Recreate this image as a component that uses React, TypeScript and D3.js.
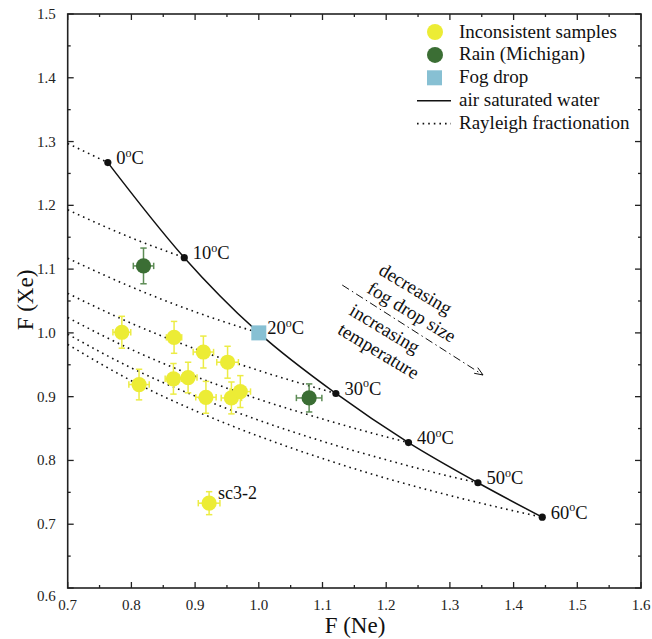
import React from "react";
import * as d3 from "d3";

// Air saturated water (ASW) equilibrium points by temperature
const aswTemps = [0, 10, 20, 30, 40, 50, 60];
const aswNe = [0.763, 0.883, 1.0, 1.121, 1.235, 1.344, 1.445];
const aswXe = [1.267, 1.118, 1.0, 0.905, 0.828, 0.765, 0.711];

// Rayleigh fractionation paths, one per ASW temperature
const rayleighNe = [
  [0.7, 0.763],
  [0.7, 0.8, 0.883],
  [0.7, 0.8, 0.9, 1.0],
  [0.7, 0.8, 0.9, 1.0, 1.121],
  [0.7, 0.8, 0.9, 1.0, 1.1, 1.2, 1.235],
  [0.7, 0.8, 0.9, 1.0, 1.1, 1.2, 1.3, 1.344],
  [0.7, 0.8, 0.9, 1.0, 1.1, 1.2, 1.3, 1.4, 1.445],
];
const rayleighXe = [
  [1.297, 1.267],
  [1.193, 1.149, 1.118],
  [1.117, 1.072, 1.033, 1.0],
  [1.062, 1.015, 0.975, 0.941, 0.905],
  [1.024, 0.974, 0.932, 0.896, 0.865, 0.837, 0.828],
  [0.998, 0.945, 0.901, 0.863, 0.83, 0.801, 0.775, 0.765],
  [0.982, 0.925, 0.878, 0.838, 0.803, 0.772, 0.745, 0.721, 0.711],
];

// Inconsistent samples
const sampleNe = [0.785, 0.867, 0.913, 0.951, 0.812, 0.866, 0.889, 0.917, 0.957, 0.971, 0.922];
const sampleXe = [1.001, 0.993, 0.97, 0.954, 0.919, 0.928, 0.93, 0.899, 0.898, 0.908, 0.733];
const sampleNeErr = [0.014, 0.012, 0.016, 0.017, 0.016, 0.013, 0.014, 0.016, 0.016, 0.016, 0.017];
const sampleXeErr = [0.025, 0.025, 0.025, 0.025, 0.024, 0.024, 0.024, 0.025, 0.025, 0.025, 0.018];
const sampleLabels = ["", "", "", "", "", "", "", "", "", "", "sc3-2"];

// Rain (Michigan)
const rainNe = [0.819, 1.079];
const rainXe = [1.105, 0.898];
const rainNeErr = [0.016, 0.02];
const rainXeErr = [0.028, 0.022];

// Fog drop
const fogNe = [1.0];
const fogXe = [1.0];

// Axis ticks
const majorTicksX = [0.7, 0.8, 0.9, 1.0, 1.1, 1.2, 1.3, 1.4, 1.5, 1.6];
const majorTicksY = [0.6, 0.7, 0.8, 0.9, 1.0, 1.1, 1.2, 1.3, 1.4, 1.5];

// Direction arrow for the annotation (F(Ne), F(Xe))
const arrowNe = [1.131, 1.352];
const arrowXe = [1.075, 0.934];

const legendItems = [
  "Inconsistent samples",
  "Rain (Michigan)",
  "Fog drop",
  "air saturated water",
  "Rayleigh fractionation",
];

const W = 652;
const H = 639;
const FONT = "'Liberation Serif', 'Times New Roman', serif";
const YELLOW = "#ecec35";
const YELLOW_BAR = "#ecec45";
const GREEN = "#3b6e34";
const GREEN_BAR = "#5d8c55";
const FOG = "#87c0d3";
const INK = "#111";

export default function App() {
  const x = d3.scaleLinear().domain([0.7, 1.6]).range([67.7, 641]);
  const y = d3.scaleLinear().domain([0.6, 1.5]).range([588, 14]);
  const [x0, x1] = x.range();
  const [y0, y1] = y.range();

  const minorX = d3.range(0.75, 1.6, 0.1);
  const minorY = d3.range(0.65, 1.5, 0.1);

  const smooth = d3
    .line<[number, number]>()
    .x((d) => x(d[0]))
    .y((d) => y(d[1]))
    .curve(d3.curveMonotoneX);

  const aswPath = smooth(aswNe.map((v, i) => [v, aswXe[i]]) as [number, number][]);
  const rayleighPaths = rayleighNe.map((ne, k) =>
    smooth(ne.map((v, i) => [v, rayleighXe[k][i]]) as [number, number][])
  );

  const errorBars = (
    ne: number,
    xe: number,
    dne: number,
    dxe: number,
    color: string,
    key: string
  ) => {
    const cx = x(ne);
    const cy = y(xe);
    const xl = x(ne - dne);
    const xr = x(ne + dne);
    const yt = y(xe + dxe);
    const yb = y(xe - dxe);
    const c = 3.2;
    return (
      <g key={key} stroke={color} strokeWidth={1.5} fill="none">
        <line x1={xl} y1={cy} x2={xr} y2={cy} />
        <line x1={xl} y1={cy - c} x2={xl} y2={cy + c} />
        <line x1={xr} y1={cy - c} x2={xr} y2={cy + c} />
        <line x1={cx} y1={yt} x2={cx} y2={yb} />
        <line x1={cx - c} y1={yt} x2={cx + c} y2={yt} />
        <line x1={cx - c} y1={yb} x2={cx + c} y2={yb} />
      </g>
    );
  };

  // arrow geometry
  const ax0 = x(arrowNe[0]);
  const ay0 = y(arrowXe[0]);
  const ax1 = x(arrowNe[1]);
  const ay1 = y(arrowXe[1]);
  const ang = Math.atan2(ay1 - ay0, ax1 - ax0);
  const headLen = 9;
  const headSpread = 0.38;
  const head1 = [ax1 - headLen * Math.cos(ang - headSpread), ay1 - headLen * Math.sin(ang - headSpread)];
  const head2 = [ax1 - headLen * Math.cos(ang + headSpread), ay1 - headLen * Math.sin(ang + headSpread)];
  const textAngle = 31;

  const legendX = 459;
  const legendBase = 37.5;
  const legendStep = 22.9;

  return (
    <svg
      width={W}
      height={H}
      viewBox={`0 0 ${W} ${H}`}
      style={{ position: "absolute", left: 0, top: 0, background: "#fff" }}
      fontFamily={FONT}
    >
      <rect x={0} y={0} width={W} height={H} fill="#fff" />

      {/* Rayleigh fractionation paths */}
      {rayleighPaths.map((p, i) => (
        <path
          key={`r${i}`}
          d={p || ""}
          fill="none"
          stroke={INK}
          strokeWidth={1.6}
          strokeDasharray="1.6 4"
        />
      ))}

      {/* Air saturated water curve */}
      <path d={aswPath || ""} fill="none" stroke={INK} strokeWidth={1.5} />
      {aswNe.map((v, i) => (
        <circle key={`a${i}`} cx={x(v)} cy={y(aswXe[i])} r={3.6} fill={INK} />
      ))}
      {aswTemps.map((t, i) => (
        <text
          key={`t${i}`}
          x={x(aswNe[i]) + 8.5}
          y={y(aswXe[i]) + 1.5}
          fontSize={18.5}
          fill={INK}
        >
          {t}
          <tspan dy={-7.5} fontSize={12}>
            o
          </tspan>
          <tspan dy={7.5}>C</tspan>
        </text>
      ))}

      {/* Inconsistent samples */}
      {sampleNe.map((v, i) =>
        errorBars(v, sampleXe[i], sampleNeErr[i], sampleXeErr[i], YELLOW_BAR, `se${i}`)
      )}
      {sampleNe.map((v, i) => (
        <circle key={`s${i}`} cx={x(v)} cy={y(sampleXe[i])} r={7.6} fill={YELLOW} />
      ))}
      {sampleNe.map((v, i) =>
        sampleLabels[i] ? (
          <text key={`sl${i}`} x={x(v) + 9} y={y(sampleXe[i]) - 4.5} fontSize={18} fill={INK}>
            {sampleLabels[i]}
          </text>
        ) : null
      )}

      {/* Rain (Michigan) */}
      {rainNe.map((v, i) =>
        errorBars(v, rainXe[i], rainNeErr[i], rainXeErr[i], GREEN_BAR, `re${i}`)
      )}
      {rainNe.map((v, i) => (
        <circle key={`rn${i}`} cx={x(v)} cy={y(rainXe[i])} r={7.6} fill={GREEN} />
      ))}

      {/* Fog drop */}
      {fogNe.map((v, i) => (
        <rect
          key={`f${i}`}
          x={x(v) - 7.5}
          y={y(fogXe[i]) - 7.5}
          width={15}
          height={15}
          fill={FOG}
        />
      ))}

      {/* Annotation arrow and text */}
      <line
        x1={ax0}
        y1={ay0}
        x2={ax1}
        y2={ay1}
        stroke={INK}
        strokeWidth={1}
        strokeDasharray="8 3.5 1.5 3.5"
      />
      <path
        d={`M${head1[0]},${head1[1]} L${ax1},${ay1} L${head2[0]},${head2[1]}`}
        fill="none"
        stroke={INK}
        strokeWidth={1}
      />
      <g fontSize={19} fill={INK}>
        <text transform={`translate(377.5,273.5) rotate(${textAngle})`}>decreasing</text>
        <text transform={`translate(366,292) rotate(${textAngle})`}>fog drop size</text>
        <text transform={`translate(348,314) rotate(${textAngle})`}>increasing</text>
        <text transform={`translate(336.5,333) rotate(${textAngle})`}>temperature</text>
      </g>

      {/* Frame */}
      <rect
        x={x0}
        y={y1}
        width={x1 - x0}
        height={y0 - y1}
        fill="none"
        stroke="#222"
        strokeWidth={1.6}
      />

      {/* Ticks: inward on all four sides */}
      <g stroke="#222" strokeWidth={1.3}>
        {majorTicksX.map((t) => (
          <g key={`mx${t}`}>
            <line x1={x(t)} x2={x(t)} y1={y0} y2={y0 - 6} />
            <line x1={x(t)} x2={x(t)} y1={y1} y2={y1 + 6} />
          </g>
        ))}
        {minorX.map((t) => (
          <g key={`nx${t}`}>
            <line x1={x(t)} x2={x(t)} y1={y0} y2={y0 - 3} />
            <line x1={x(t)} x2={x(t)} y1={y1} y2={y1 + 3} />
          </g>
        ))}
        {majorTicksY.map((t) => (
          <g key={`my${t}`}>
            <line x1={x0} x2={x0 + 6} y1={y(t)} y2={y(t)} />
            <line x1={x1} x2={x1 - 6} y1={y(t)} y2={y(t)} />
          </g>
        ))}
        {minorY.map((t) => (
          <g key={`ny${t}`}>
            <line x1={x0} x2={x0 + 3} y1={y(t)} y2={y(t)} />
            <line x1={x1} x2={x1 - 3} y1={y(t)} y2={y(t)} />
          </g>
        ))}
      </g>

      {/* Tick labels; the lowest y label sits a little below its tick to clear the x labels */}
      <g fontSize={15} fill="#222">
        {majorTicksX.map((t) => (
          <text key={`lx${t}`} x={x(t)} y={y0 + 22} textAnchor="middle">
            {d3.format(".1f")(t)}
          </text>
        ))}
        {majorTicksY.map((t, i) => (
          <text key={`ly${t}`} x={x0 - 12} y={y(t) + 5 + (i === 0 ? 8 : 0)} textAnchor="end">
            {d3.format(".1f")(t)}
          </text>
        ))}
      </g>

      {/* Axis titles */}
      <text x={355} y={633} fontSize={23} textAnchor="middle" fill={INK}>
        F (Ne)
      </text>
      <text
        transform="translate(33,300) rotate(-90)"
        fontSize={23}
        textAnchor="middle"
        fill={INK}
      >
        F (Xe)
      </text>

      {/* Legend */}
      <g>
        <circle cx={435} cy={legendBase - 5.5} r={8} fill={YELLOW} />
        <circle cx={435} cy={legendBase + legendStep - 5.5} r={8} fill={GREEN} />
        <rect x={427} y={legendBase + 2 * legendStep - 13} width={15} height={15} fill={FOG} />
        <line
          x1={417}
          x2={451}
          y1={legendBase + 3 * legendStep - 5.5}
          y2={legendBase + 3 * legendStep - 5.5}
          stroke={INK}
          strokeWidth={1.5}
        />
        <line
          x1={417}
          x2={451}
          y1={legendBase + 4 * legendStep - 5.5}
          y2={legendBase + 4 * legendStep - 5.5}
          stroke={INK}
          strokeWidth={1.6}
          strokeDasharray="1.6 4"
        />
        {legendItems.map((s, i) => (
          <text key={s} x={legendX} y={legendBase + i * legendStep} fontSize={19} fill={INK}>
            {s}
          </text>
        ))}
      </g>
    </svg>
  );
}
